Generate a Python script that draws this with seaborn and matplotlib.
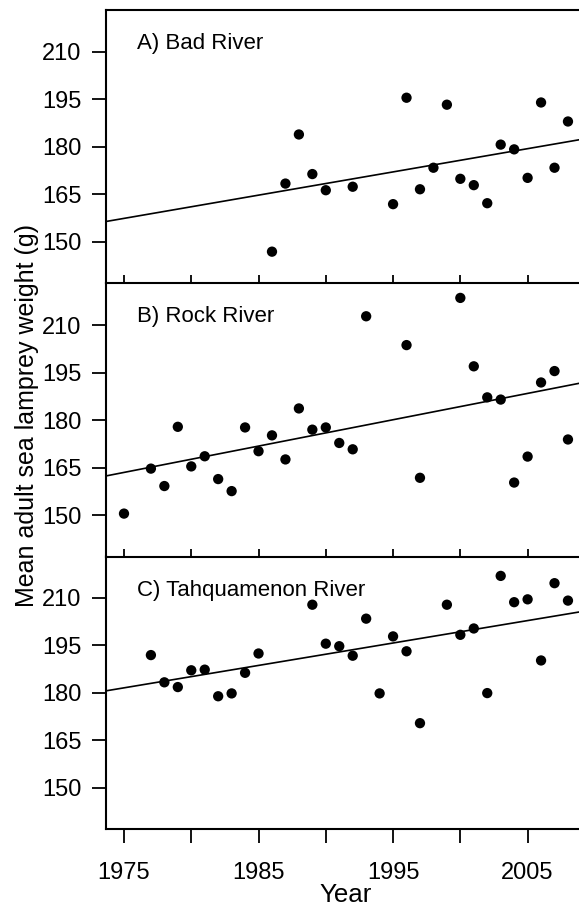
import numpy as np
import pandas as pd
import matplotlib
matplotlib.use("Agg")
import matplotlib.pyplot as plt
import seaborn as sns

# ---------------------------------------------------------
# data (year, mean adult weight in g)
# ---------------------------------------------------------
bad_years = [1986, 1987, 1988, 1989, 1990, 1992, 1995, 1996, 1997, 1998,
             1999, 2000, 2001, 2002, 2003, 2004, 2005, 2006, 2007, 2008]
bad_weight = [146.9, 168.4, 183.9, 171.4, 166.3, 167.4, 161.9, 195.5, 166.6, 173.4,
              193.3, 169.9, 167.9, 162.2, 180.7, 179.2, 170.2, 194.0, 173.4, 188.0]

rock_years = [1975, 1977, 1978, 1979, 1980, 1981, 1982, 1983, 1984, 1985,
              1986, 1987, 1988, 1989, 1990, 1991, 1992, 1993, 1996, 1997,
              2000, 2001, 2002, 2003, 2004, 2005, 2006, 2007, 2008]
rock_weight = [150.5, 164.7, 159.2, 177.9, 165.4, 168.6, 161.4, 157.6, 177.7, 170.2,
               175.2, 167.6, 183.7, 177.0, 177.7, 172.8, 170.8, 212.8, 203.7, 161.8,
               218.6, 197.0, 187.2, 186.5, 160.3, 168.5, 191.9, 195.5, 173.9]

tahq_years = [1977, 1978, 1979, 1980, 1981, 1982, 1983, 1984, 1985, 1989,
              1990, 1991, 1992, 1993, 1994, 1995, 1996, 1997, 1999, 2000,
              2001, 2002, 2003, 2004, 2005, 2006, 2007, 2008]
tahq_weight = [191.9, 183.3, 181.8, 187.1, 187.3, 178.9, 179.8, 186.3, 192.4, 207.8,
               195.5, 194.7, 191.7, 203.4, 179.8, 197.8, 193.1, 170.4, 207.8, 198.3,
               200.3, 179.9, 216.9, 208.6, 209.5, 190.2, 214.6, 209.1]

panel_labels = ["A) Bad River", "B) Rock River", "C) Tahquamenon River"]
y_ticks = [150, 165, 180, 195, 210]
x_ticks = [1975, 1980, 1985, 1990, 1995, 2000, 2005]
x_ticklabels = ["1975", "", "1985", "", "1995", "", "2005"]

sns.set_style("ticks", {"axes.edgecolor": "black", "text.color": "black",
                        "xtick.color": "black", "ytick.color": "black"})
plt.rcParams["font.family"] = ["Liberation Sans", "DejaVu Sans"]

fig = plt.figure(figsize=(5.79, 9.09), dpi=100)

left = 105.7 / 579
bottoms = [0.6883, 0.3876, 0.0877]
height = 0.3007
label_y = [0.878, 0.878, 0.873]

series = [(bad_years, bad_weight), (rock_years, rock_weight), (tahq_years, tahq_weight)]

for i, (yrs, wts) in enumerate(series):
    ax = fig.add_axes([left, bottoms[i], 1 - left, height])
    ax.patch.set_visible(False)
    df = pd.DataFrame({"Year": yrs, "Weight": wts})

    # limits first so the fitted line spans the whole panel
    ax.set_xlim(1973.64, 2008.82)
    ax.set_ylim(136.9, 223.2)

    sns.scatterplot(data=df, x="Year", y="Weight", ax=ax, color="black",
                    s=55, edgecolor="none", zorder=3)
    sns.regplot(data=df, x="Year", y="Weight", ax=ax, scatter=False, ci=None,
                truncate=False, color="black", line_kws={"lw": 1.2})

    ax.set_xlim(1973.64, 2008.82)
    ax.set_ylim(136.9, 223.2)

    ax.set_yticks(y_ticks)
    ax.tick_params(axis="y", direction="out", length=10, width=1.3,
                   pad=7.5, labelsize=17)
    ax.set_xticks(x_ticks)

    if i < 2:
        ax.tick_params(axis="x", direction="in", length=6, width=1.3,
                       labelbottom=False)
    else:
        ax.set_xticklabels(x_ticklabels)
        ax.tick_params(axis="x", direction="out", length=10, width=1.3,
                       pad=13.5, labelsize=17)
    ax.set_xlabel("")
    ax.set_ylabel("")

    for side in ["left", "bottom", "top"]:
        ax.spines[side].set_linewidth(1.5)
    ax.spines["right"].set_visible(False)
    if i > 0:
        ax.spines["top"].set_visible(False)

    ax.text(0.067, label_y[i], panel_labels[i], transform=ax.transAxes,
            fontsize=16, ha="left", va="center")

fig.text(0.047, 0.5424, "Mean adult sea lamprey weight (g)", rotation=90,
         ha="center", va="center", fontsize=18)
fig.text(346 / 579, 1 - 902.5 / 909, "Year", ha="center", va="baseline", fontsize=18.6)

fig.savefig("out.png", dpi=100)
